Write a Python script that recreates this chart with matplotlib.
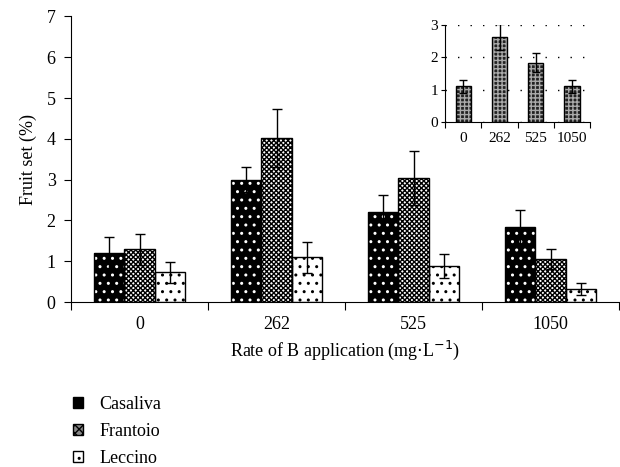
import matplotlib.pyplot as plt
import numpy as np
from matplotlib.patches import Patch

# Data
rates = ["0", "262", "525", "1050"]
cultivars = ["Casaliva", "Frantoio", "Leccino"]
casaliva = [1.21, 3.00, 2.21, 1.84]
casaliva_err = [0.38, 0.30, 0.41, 0.42]
frantoio = [1.30, 4.02, 3.04, 1.05]
frantoio_err = [0.38, 0.72, 0.65, 0.25]
leccino = [0.73, 1.10, 0.88, 0.32]
leccino_err = [0.26, 0.38, 0.30, 0.15]

inset_vals = [1.10, 2.62, 1.83, 1.10]
inset_err = [0.20, 0.40, 0.29, 0.20]

plt.rcParams["font.family"] = ["Liberation Serif", "DejaVu Serif"]
plt.rcParams["hatch.linewidth"] = 1.0


def draw_bars(ax, x, vals, width, face, hatch_col, hatch):
    # hatch drawn in its own colour, then a black outline on top
    ax.bar(x, vals, width, color=face, edgecolor=hatch_col, hatch=hatch,
           linewidth=0, zorder=2)
    ax.bar(x, vals, width, fill=False, edgecolor="black", linewidth=1.0, zorder=3)


fig = plt.figure(figsize=(6.2, 4.67), dpi=100)
ax = fig.add_axes([0.1145, 0.353, 0.884, 0.612])

x = np.arange(len(rates))
w = 0.22
styles = [("black", "white", ".."), ("white", "black", "xxxxxxx"), ("white", "black", "..")]
series = [(casaliva, casaliva_err), (frantoio, frantoio_err), (leccino, leccino_err)]
for i, ((vals, err), (face, hc, hatch)) in enumerate(zip(series, styles)):
    xi = x + (i - 1) * w
    draw_bars(ax, xi, vals, w, face, hc, hatch)
    ax.errorbar(xi, vals, yerr=err, fmt="none", ecolor="black", elinewidth=1,
                capsize=3.5, capthick=1, zorder=4)

ax.set_xlim(-0.5, 3.5)
ax.set_ylim(0, 7)
ax.set_yticks(range(8))
ax.set_xticks([-0.5, 0.5, 1.5, 2.5, 3.5])
ax.set_xticklabels([])
ax.set_xticks(x, minor=True)
ax.set_xticklabels(rates, minor=True)
ax.tick_params(axis="x", which="minor", length=0, pad=10, labelsize=13)
ax.tick_params(axis="x", which="major", length=6, direction="out")
ax.tick_params(axis="y", length=5, direction="out", labelsize=13, pad=6)
for s in ["top", "right"]:
    ax.spines[s].set_visible(False)
ax.set_ylabel("Fruit set (%)", fontsize=13, labelpad=7)
ax.set_xlabel("Rate of B application (mg$\\cdot$L$^{-1}$)", fontsize=13, labelpad=4)

handles = [Patch(facecolor="black", edgecolor="black", hatch="..", linewidth=1),
           Patch(facecolor="#888888", edgecolor="black", hatch="xxxx", linewidth=1),
           Patch(facecolor="white", edgecolor="black", hatch="..", linewidth=1)]
fig.legend(handles, cultivars, loc="upper left", bbox_to_anchor=(0.118, 0.153),
           frameon=False, fontsize=13, handlelength=0.55, handleheight=0.55,
           handletextpad=0.9, labelspacing=0.56, borderaxespad=0, borderpad=0)

# Inset
ins = fig.add_axes([0.718, 0.739, 0.234, 0.208])
xi = np.arange(len(rates))
ins.bar(xi, inset_vals, 0.42, color="#222222", edgecolor="#aaaaaa", hatch="++++",
        linewidth=0, zorder=2)
ins.bar(xi, inset_vals, 0.42, fill=False, edgecolor="black", linewidth=1, zorder=3)
ins.errorbar(xi, inset_vals, yerr=inset_err, fmt="none", ecolor="black",
             elinewidth=1, capsize=3, capthick=1, zorder=4)
ins.set_xlim(-0.5, 3.5)
ins.set_ylim(0, 3)
ins.set_yticks([0, 1, 2, 3])
ins.set_xticks([-0.5, 0.5, 1.5, 2.5, 3.5])
ins.set_xticklabels([])
ins.set_xticks(xi, minor=True)
ins.set_xticklabels(rates, minor=True)
ins.tick_params(axis="x", which="minor", length=0, pad=7, labelsize=11)
ins.tick_params(axis="x", which="major", length=4, direction="out")
ins.tick_params(axis="y", length=3, direction="out", labelsize=11, pad=2)
ins.yaxis.grid(True, linestyle=(0, (1, 8)), color="black", linewidth=1)
ins.set_axisbelow(True)
for s in ["top", "right"]:
    ins.spines[s].set_visible(False)

fig.savefig("out.png", dpi=100)
